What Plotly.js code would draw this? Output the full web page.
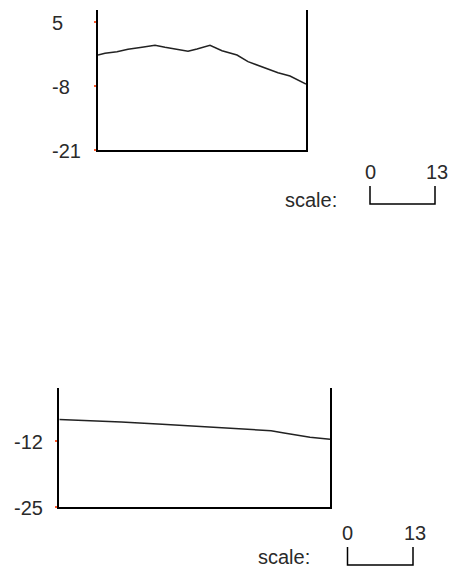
<!DOCTYPE html>
<html>
<head>
<meta charset="utf-8">
<script src="https://cdn.plot.ly/plotly-3.0.1.min.js"></script>
<style>
html,body{margin:0;padding:0;background:#fff;}
#chart{width:454px;height:574px;}
</style>
</head>
<body>
<div id="chart"></div>
<script>
// ---- data ----
var topX = [0, 7, 19, 30, 44, 57, 67, 79, 90, 99, 112, 124, 139, 150, 164, 180, 192, 208];
var topY = [-1.70, -1.36, -1.03, -0.55, -0.14, 0.27, -0.14, -0.55, -0.95, -0.48, 0.27, -0.83, -1.70, -3.06, -4.08, -5.30, -5.97, -7.59];
var topTicks = [5, -8, -21];
var topRange = [-21, 7.44];

var botX = [0, 20, 62, 103, 143, 185, 212, 225, 238, 251, 271];
var botY = [-7.79, -7.93, -8.28, -8.71, -9.15, -9.56, -9.99, -10.44, -10.88, -11.31, -11.67];
var botTicks = [-12, -25];
var botRange = [-25, -1.63];

var scaleLabels = ['0', '13'];
var scaleTitle = 'scale:';

// ---- layout ----
var W = 454, H = 574;
function px(x){ return x / W; }
function py(y){ return 1 - y / H; }

var FONT = {family: 'Liberation Sans, Arial, sans-serif', size: 20, color: '#2a2a2a'};
var TICKCOL = '#ff5a2a';

function yax(domain, range, ticks){
  return {domain: domain, range: range, showline: true, linecolor: '#000', linewidth: 2,
    mirror: true, showgrid: false, zeroline: false, tickmode: 'array', tickvals: ticks,
    ticks: 'outside', ticklen: 2, tickwidth: 2, tickcolor: TICKCOL, showticklabels: false, fixedrange: true};
}
function xax(domain, range, anchor){
  return {domain: domain, range: range, anchor: anchor, showline: true, linecolor: '#000', linewidth: 2,
    mirror: false, showgrid: false, zeroline: false, ticks: '', showticklabels: false, fixedrange: true};
}

var traces = [
  {x: topX, y: topY, xaxis: 'x', yaxis: 'y', mode: 'lines', line: {color: '#222', width: 1.5}, hoverinfo: 'skip'},
  {x: botX, y: botY, xaxis: 'x2', yaxis: 'y2', mode: 'lines', line: {color: '#222', width: 1.5}, hoverinfo: 'skip'}
];

var annotations = [];
topTicks.forEach(function(v){
  annotations.push({xref: 'paper', yref: 'y', x: px(50), y: v, text: String(v), showarrow: false,
    xanchor: 'left', yanchor: 'middle', yshift: -1, font: FONT});
});
botTicks.forEach(function(v){
  annotations.push({xref: 'paper', yref: 'y2', x: px(12), y: v, text: String(v), showarrow: false,
    xanchor: 'left', yanchor: 'middle', yshift: -1, font: FONT});
});

var shapes = [];
function scaleBar(x0, x1, yTop, yBot, labelY, titleX, titleY){
  shapes.push({type: 'path', xref: 'paper', yref: 'paper',
    path: 'M ' + px(x0) + ' ' + py(yTop) + ' L ' + px(x0) + ' ' + py(yBot) + ' L ' + px(x1) + ' ' + py(yBot) + ' L ' + px(x1) + ' ' + py(yTop),
    line: {color: '#000', width: 1.5}});
  annotations.push({xref: 'paper', yref: 'paper', x: px(x0), y: py(labelY), text: scaleLabels[0], showarrow: false,
    xanchor: 'center', yanchor: 'middle', font: FONT});
  annotations.push({xref: 'paper', yref: 'paper', x: px(x1 + 2), y: py(labelY), text: scaleLabels[1], showarrow: false,
    xanchor: 'center', yanchor: 'middle', font: FONT});
  annotations.push({xref: 'paper', yref: 'paper', x: px(titleX), y: py(titleY), text: scaleTitle, showarrow: false,
    xanchor: 'right', yanchor: 'middle', font: FONT});
}
scaleBar(370, 435, 186, 204, 172.5, 339, 200);
scaleBar(347.5, 413, 547, 565, 533, 312, 557);

var layout = {
  width: W, height: H, margin: {l: 0, r: 0, t: 0, b: 0},
  paper_bgcolor: '#fff', plot_bgcolor: '#fff', showlegend: false,
  xaxis: xax([px(98), px(306)], [0, 208], 'y'),
  yaxis: yax([py(150), py(10)], topRange, topTicks),
  xaxis2: xax([px(59.3), px(330)], [0, 271], 'y2'),
  yaxis2: yax([py(506.7), py(388.3)], botRange, botTicks),
  annotations: annotations, shapes: shapes
};
layout.yaxis.anchor = 'x';
layout.yaxis2.anchor = 'x2';

Plotly.newPlot('chart', traces, layout, {staticPlot: true, displayModeBar: false});
</script>
</body>
</html>
